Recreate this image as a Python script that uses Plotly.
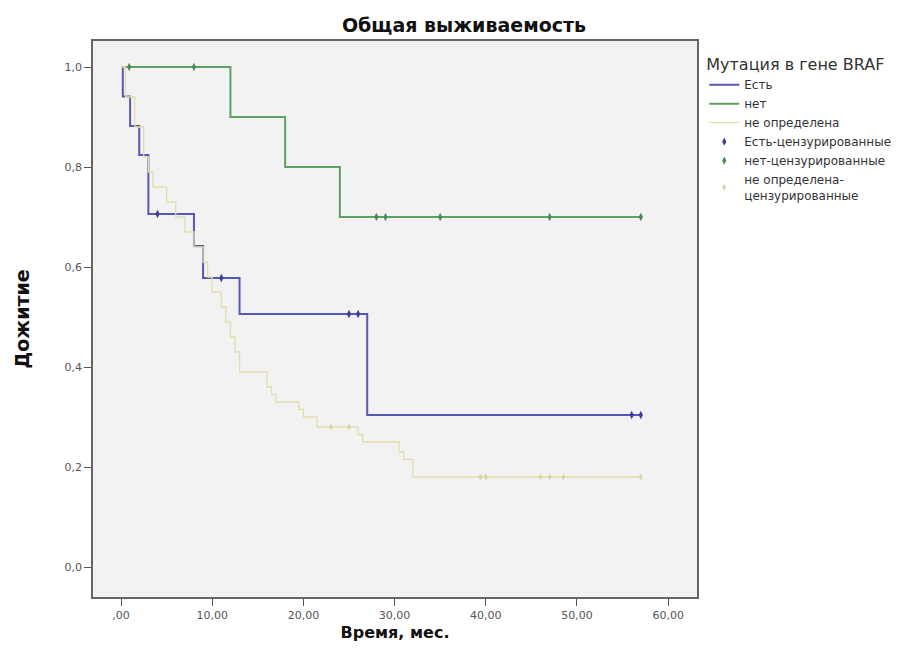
import plotly.graph_objects as go

# ---- data ----
# "Есть" (BRAF mutation present)
est_t = [0, 0.2, 1.0, 2.0, 3.0, 8.0, 9.0, 13.0, 27.0, 57.0]
est_s = [1.0, 0.941, 0.882, 0.824, 0.706, 0.642, 0.578, 0.506, 0.304, 0.304]
est_cens_t = [4.0, 11.0, 25.0, 26.0, 56.0, 57.0]
est_cens_s = [0.706, 0.578, 0.506, 0.506, 0.304, 0.304]

# "нет" (no mutation)
net_t = [0, 12.0, 18.0, 24.0, 57.0]
net_s = [1.0, 0.9, 0.8, 0.7, 0.7]
net_cens_t = [0.9, 8.0, 28.0, 29.0, 35.0, 47.0, 57.0]
net_cens_s = [1.0, 1.0, 0.7, 0.7, 0.7, 0.7, 0.7]

# "не определена" (not determined)
nd_t = [0, 0.5, 1.5, 2.5, 3.0, 3.5, 5.0, 6.0, 7.0, 8.0, 9.0, 9.5, 10.0, 11.0,
        11.5, 12.0, 12.5, 13.0, 16.0, 16.5, 17.0, 19.5, 20.0, 21.5, 26.0, 26.5,
        30.5, 31.0, 32.0, 57.0]
nd_s = [1.0, 0.94, 0.88, 0.82, 0.79, 0.76, 0.73, 0.70, 0.67, 0.64, 0.61, 0.58,
        0.55, 0.52, 0.49, 0.46, 0.43, 0.39, 0.36, 0.345, 0.33, 0.315, 0.30,
        0.28, 0.265, 0.25, 0.23, 0.215, 0.18, 0.18]
nd_cens_t = [23.0, 25.0, 39.4, 40.0, 46.0, 47.0, 48.5, 57.0]
nd_cens_s = [0.28, 0.28, 0.18, 0.18, 0.18, 0.18, 0.18, 0.18]

x_ticks = [0, 10, 20, 30, 40, 50, 60]
x_labels = [",00", "10,00", "20,00", "30,00", "40,00", "50,00", "60,00"]
y_ticks = [0, 0.2, 0.4, 0.6, 0.8, 1.0]
y_labels = ["0,0", "0,2", "0,4", "0,6", "0,8", "1,0"]

BLUE = "#5858b4"
GREEN = "#5f9f64"
YELLOW = "#e2deaa"

FONT = "DejaVu Sans, Liberation Sans, Arial, sans-serif"

fig = go.Figure()
fig.add_trace(go.Scatter(x=est_t, y=est_s, mode="lines", line_shape="hv",
                         line=dict(color=BLUE, width=2), name="Есть"))
fig.add_trace(go.Scatter(x=net_t, y=net_s, mode="lines", line_shape="hv",
                         line=dict(color=GREEN, width=2), name="нет"))
fig.add_trace(go.Scatter(x=nd_t, y=nd_s, mode="lines", line_shape="hv",
                         line=dict(color=YELLOW, width=1.3), name="не определена"))
fig.add_trace(go.Scatter(x=est_cens_t, y=est_cens_s, mode="markers",
                         marker=dict(symbol="diamond-tall", size=6, color="#3e3e96"),
                         name="Есть-цензурированные"))
fig.add_trace(go.Scatter(x=net_cens_t, y=net_cens_s, mode="markers",
                         marker=dict(symbol="diamond-tall", size=6, color="#4c8a58"),
                         name="нет-цензурированные"))
fig.add_trace(go.Scatter(x=nd_cens_t, y=nd_cens_s, mode="markers",
                         marker=dict(symbol="diamond-tall", size=5, color="#d8d39c"),
                         name="не определена-<br>цензурированные"))

fig.update_layout(
    width=903, height=650,
    margin=dict(l=85, r=214, t=33, b=61),
    paper_bgcolor="white",
    plot_bgcolor="#f2f2f2",
    font=dict(family=FONT, color="#333333"),
    title=dict(text="<b>Общая выживаемость</b>", x=0.505, xref="container",
               y=0.974, yref="container", xanchor="center", yanchor="middle",
               font=dict(size=19, color="#111111")),
    legend=dict(x=1.012, y=0.985, xanchor="left", yanchor="top",
                font=dict(size=12, color="#333333"),
                title=dict(text="Мутация в гене BRAF", font=dict(size=16, color="#333333")),
                itemwidth=30, tracegroupgap=0, bgcolor="rgba(0,0,0,0)"),
    showlegend=True,
)
fig.update_xaxes(range=[-3.07, 63.16], tickvals=x_ticks, ticktext=x_labels,
                 ticks="outside", ticklen=7, tickcolor="#555555",
                 showgrid=False, zeroline=False, showline=True, mirror=True,
                 linecolor="#666666", linewidth=1.5,
                 tickfont=dict(size=11, color="#555555"),
                 title=dict(text="<b>Время, мес.</b>", font=dict(size=16, color="#111111"),
                            standoff=6))
fig.update_yaxes(range=[-0.06, 1.052], tickvals=y_ticks, ticktext=y_labels,
                 ticks="outside", ticklen=7, tickcolor="#555555",
                 showgrid=False, zeroline=False, showline=True, mirror=True,
                 linecolor="#666666", linewidth=1.5,
                 tickfont=dict(size=11, color="#555555"),
                 title=dict(text="<b>Дожитие</b>", font=dict(size=19, color="#111111"),
                            standoff=30))

fig.write_html("out.html")
